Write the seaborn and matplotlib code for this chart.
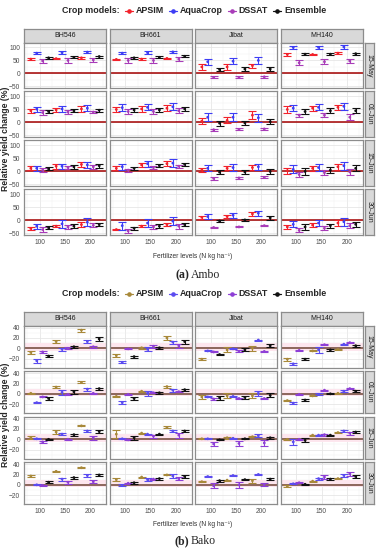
#!/usr/bin/env python3
"""
Relative yield change (%) of maize varieties under three N levels and four
sowing dates, simulated by APSIM, AquaCrop, DSSAT and their ensemble.
(a) Ambo, (b) Bako.
"""

import numpy as np
import pandas as pd
import matplotlib
matplotlib.use("Agg")
import matplotlib.pyplot as plt
from matplotlib.lines import Line2D
from matplotlib.ticker import FixedLocator
import seaborn as sns

# === Categories ===
VARIETIES = ["BH546", "BH661", "Jibat", "MH140"]
SOWING_DATES = ["15-May", "01-Jun", "15-Jun", "30-Jun"]
N_LEVELS = [100, 150, 200]
MODELS = ["APSIM", "AquaCrop", "DSSAT", "Ensemble"]

# === Data: rows = sowing dates, each row = BH546(100,150,200) | BH661 | Jibat | MH140 ===
AMBO_APSIM_MEAN = [
    [55, 57, 60, 54, 55, 58, 25, 25, 30, 73, 73, 78],
    [45, 48, 52, 50, 52, 55, 5, 8, 28, 50, 55, 58],
    [12, 20, 27, 12, 25, 30, 5, 12, 15, 3, 12, 18],
    [-31, -22, -16, -35, -22, -16, 12, 15, 25, -25, -18, -10],
]
AMBO_APSIM_ERR = [
    [3, 3, 3, 3, 3, 3, 10, 10, 8, 4, 3, 4],
    [8, 8, 10, 10, 10, 12, 12, 12, 15, 12, 10, 10],
    [8, 9, 10, 8, 9, 9, 8, 8, 8, 12, 10, 12],
    [5, 5, 10, 3, 5, 7, 6, 6, 8, 7, 7, 12],
]
AMBO_AQUACROP_MEAN = [
    [78, 80, 82, 78, 80, 83, 45, 47, 50, 100, 100, 102],
    [51, 52, 55, 57, 58, 60, 20, 20, 18, 55, 58, 62],
    [12, 20, 25, 18, 30, 32, 12, 15, 18, 8, 15, 22],
    [-22, -13, -7, -20, -10, -3, 15, 20, 28, -15, -10, -5],
]
AMBO_AQUACROP_ERR = [
    [5, 5, 5, 5, 5, 5, 12, 12, 12, 5, 5, 7],
    [10, 10, 12, 12, 12, 14, 15, 15, 15, 12, 12, 14],
    [9, 10, 12, 12, 12, 14, 12, 12, 12, 15, 15, 15],
    [10, 15, 15, 15, 15, 15, 8, 10, 10, 12, 12, 15],
]
AMBO_DSSAT_MEAN = [
    [48, 50, 52, 50, 50, 55, -15, -15, -13, 41, 45, 48],
    [38, 40, 40, 42, 42, 45, -28, -27, -25, 28, 28, 20],
    [5, 15, 18, 5, 15, 20, -27, -25, -23, -12, -5, -2],
    [-35, -25, -19, -40, -25, -22, -27, -25, -20, -38, -30, -20],
]
AMBO_DSSAT_ERR = [
    [9, 9, 9, 9, 8, 8, 4, 4, 4, 9, 9, 8],
    [8, 8, 5, 10, 9, 10, 4, 4, 5, 6, 7, 12],
    [7, 7, 7, 6, 6, 6, 4, 4, 4, 10, 10, 10],
    [8, 8, 8, 8, 8, 9, 2, 2, 2, 8, 8, 10],
]
AMBO_ENSEMBLE_MEAN = [
    [60, 62, 65, 60, 62, 66, 15, 17, 17, 74, 74, 76],
    [42, 45, 47, 48, 48, 52, -3, -2, 3, 42, 45, 45],
    [10, 18, 22, 12, 22, 27, -3, -2, 0, 0, 5, 12],
    [-28, -22, -16, -30, -22, -16, -2, 2, 10, -25, -20, -15],
]
AMBO_ENSEMBLE_ERR = [
    [4, 4, 4, 4, 4, 4, 7, 6, 7, 4, 4, 4],
    [5, 5, 6, 7, 6, 7, 10, 9, 10, 10, 10, 10],
    [6, 7, 7, 6, 6, 6, 8, 8, 8, 12, 12, 12],
    [6, 7, 7, 6, 7, 6, 4, 4, 8, 10, 8, 10],
]

BAKO_APSIM_MEAN = [
    [-8, 13, 35, -14, 1, 20, -21, -3, 0, -21, -5, -2],
    [1, 13, 22, -5, 5, 14, -6, -4, -4, -13, -4, 1],
    [3, 14, 26, 10, 12, 23, 1, 3, 5, 0, 8, 13],
    [17, 26, 33, 10, 15, 19, 6, 9, 8, -3, 7, 12],
]
BAKO_APSIM_ERR = [
    [3, 3, 3, 3, 2, 4, 2, 5, 5, 3, 1, 1],
    [1, 2, 2, 1, 1, 2, 4, 5, 5, 1, 1, 1],
    [3, 3, 1, 7, 1, 2, 1, 2, 1, 1, 1, 1],
    [1, 1, 1, 3, 1, 1, 1, 1, 4, 2, 1, 1],
]
BAKO_AQUACROP_MEAN = [
    [-24, -2, 13, -27, -2, 12, -5, -1, 16, -30, -3, 8],
    [-17, 3, 9, -17, 1, 7, -6, -5, 1, -18, -1, 5],
    [1, 10, 16, 1, 10, 16, 1, 2, 7, -5, 8, 16],
    [0, 11, 18, -1, 10, 17, 16, 18, 20, 2, 12, 18],
]
BAKO_AQUACROP_ERR = [
    [4, 3, 3, 2, 4, 3, 1, 1, 1, 2, 6, 1],
    [1, 5, 3, 3, 5, 3, 1, 1, 5, 2, 2, 2],
    [1, 2, 1, 1, 1, 1, 1, 1, 3, 6, 1, 1],
    [1, 3, 3, 2, 3, 3, 1, 1, 1, 1, 2, 2],
]
BAKO_DSSAT_MEAN = [
    [-7, 0, 3, -1, 4, 5, -7, -6, -6, -4, 7, 11],
    [-6, -1, 1, -1, 2, 4, -10, -9, -9, -1, 7, 10],
    [-5, 0, 3, -1, 6, 8, -9, -8, -7, 0, 9, 12],
    [-1, 5, 6, 3, 11, 12, -2, 0, 0, 4, 15, 21],
]
BAKO_DSSAT_ERR = [
    [2, 2, 2, 1, 3, 4, 1, 2, 1, 1, 1, 1],
    [1, 1, 1, 1, 1, 1, 1, 1, 1, 1, 1, 1],
    [2, 1, 4, 1, 3, 5, 3, 4, 5, 1, 2, 3],
    [1, 3, 3, 1, 1, 3, 5, 6, 3, 1, 3, 4],
]
BAKO_ENSEMBLE_MEAN = [
    [-15, 3, 18, -16, 1, 13, -12, -3, 5, -21, -3, 5],
    [-9, 4, 10, -9, 2, 8, -8, -7, -3, -12, 0, 5],
    [0, 9, 15, 3, 10, 16, -1, 1, 3, -2, 8, 14],
    [5, 14, 19, 4, 12, 16, 8, 10, 11, 1, 11, 16],
]
BAKO_ENSEMBLE_ERR = [
    [2, 2, 3, 2, 2, 4, 1, 3, 3, 2, 2, 2],
    [2, 4, 2, 2, 2, 2, 3, 3, 4, 2, 1, 2],
    [1, 2, 2, 4, 1, 2, 1, 1, 2, 4, 1, 2],
    [2, 2, 2, 2, 2, 2, 2, 1, 2, 1, 2, 2],
]

AMBO_COLORS = {"APSIM": "#F2222B", "AquaCrop": "#3D3DF5", "DSSAT": "#A83CB8", "Ensemble": "#111111"}
BAKO_COLORS = {"APSIM": "#A8893A", "AquaCrop": "#5B4CF0", "DSSAT": "#8E3FD6", "Ensemble": "#111111"}

W, H = 383, 550
SANS = ["Liberation Sans", "DejaVu Sans"]
SERIF = ["Liberation Serif", "DejaVu Serif"]


def build_frame(means, errs):
    rows = []
    for m, mean_arr, err_arr in zip(MODELS, means, errs):
        for di, d in enumerate(SOWING_DATES):
            for vi, v in enumerate(VARIETIES):
                for li, lvl in enumerate(N_LEVELS):
                    k = vi * 3 + li
                    rows.append((d, v, lvl, m, mean_arr[di][k], err_arr[di][k]))
    df = pd.DataFrame(rows, columns=["date", "variety", "level", "model", "mean", "err"])
    dodge = {m: (i - 1.5) * 11.7 for i, m in enumerate(MODELS)}
    df["x"] = df["level"] + df["model"].map(dodge)
    return df


def px_axes(fig, x, y, w, h):
    return fig.add_axes([x / W, 1 - (y + h) / H, w / W, h / H])


def style_panel(ax, ylim, yticks, yminor):
    ax.set_xlim(69, 231)
    ax.set_ylim(*ylim)
    ax.xaxis.set_major_locator(FixedLocator(N_LEVELS))
    ax.xaxis.set_minor_locator(FixedLocator([75, 125, 175, 225]))
    ax.yaxis.set_major_locator(FixedLocator(yticks))
    ax.yaxis.set_minor_locator(FixedLocator(yminor))
    ax.grid(which="major", color="#E6E6E6", lw=0.6)
    ax.grid(which="minor", color="#F1F1F1", lw=0.35)
    ax.set_axisbelow(True)
    for sp in ax.spines.values():
        sp.set_color("#8C8C8C")
        sp.set_linewidth(0.9)
    ax.tick_params(which="major", length=1.8, width=0.5, color="#555555", pad=1,
                   labelsize=4.8, labelcolor="#4D4D4D")
    ax.tick_params(which="minor", length=0)
    ax.set_xlabel("")
    ax.set_ylabel("")


def strip(fig, x, y, w, h, text, rotation=0):
    sax = px_axes(fig, x, y, w, h)
    sax.set_facecolor("#D9D9D9")
    sax.set_xticks([])
    sax.set_yticks([])
    for sp in sax.spines.values():
        sp.set_color("#8C8C8C")
        sp.set_linewidth(0.9)
    sax.text(0.5, 0.5, text, ha="center", va="center", rotation=rotation,
             fontsize=5.0, color="#1A1A1A", transform=sax.transAxes)


def draw_legend(fig, colors, y, center=194):
    renderer = fig.canvas.get_renderer()
    yf = 1 - y / H
    items = []
    title = fig.text(0, yf, "Crop models:", ha="left", va="center",
                     fontsize=6.4, fontweight="bold")
    items.append(("text", title, title.get_window_extent(renderer).width))
    for m in MODELS:
        items.append(("key", m, 8))
        t = fig.text(0, yf, m, ha="left", va="center", fontsize=6.4, fontweight="bold")
        items.append(("text", t, t.get_window_extent(renderer).width))
    gaps = {"key": 5.5, "text": 2.5}
    total = sum(w for _, _, w in items) + sum(gaps[k] for k, _, _ in items[1:])
    x = center - total / 2
    for i, (kind, obj, w) in enumerate(items):
        if i > 0:
            x += gaps[kind]
        if kind == "text":
            obj.set_x(x / W)
        else:
            c = colors[obj]
            fig.add_artist(Line2D([x / W, (x + w) / W], [yf, yf], color=c, lw=0.9,
                                  transform=fig.transFigure))
            fig.add_artist(Line2D([(x + w / 2) / W], [yf], color=c, marker="o",
                                  markersize=2.3, lw=0, transform=fig.transFigure))
        x += w


def draw_site(fig, df, colors, top, strip_h, row_step, row_h, ylim, yticks, yminor,
              zero_color, band, legend_y, xlabel_y, caption_y, caption):
    col_x = [24, 109.5, 195, 280.5]
    pw = 82
    row_top = top + strip_h

    draw_legend(fig, colors, legend_y)

    for ci, v in enumerate(VARIETIES):
        strip(fig, col_x[ci], top, pw, strip_h, v)

    for ri, d in enumerate(SOWING_DATES):
        ry = row_top + ri * row_step
        strip(fig, 364.5, ry, 9.5, row_h, d, rotation=-90)
        for ci, v in enumerate(VARIETIES):
            ax = px_axes(fig, col_x[ci], ry, pw, row_h)
            sub = df[(df["date"] == d) & (df["variety"] == v)]
            if band is not None:
                ax.axhspan(band[0], band[1], color="#FDE6EE", lw=0, zorder=1)
            ax.axhline(0, color=zero_color, lw=1.1, zorder=2)
            for m in MODELS:
                s = sub[sub["model"] == m]
                ax.errorbar(s["x"], s["mean"], yerr=s["err"], fmt="none",
                            ecolor=colors[m], elinewidth=0.8, capsize=2.6,
                            capthick=0.8, zorder=3)
            sns.scatterplot(data=sub, x="x", y="mean", hue="model", hue_order=MODELS,
                            palette=colors, s=4, linewidth=0, legend=False, ax=ax, zorder=4)
            style_panel(ax, ylim, yticks, yminor)
            if ci > 0:
                ax.tick_params(axis="y", labelleft=False, length=0)
            if ri < len(SOWING_DATES) - 1:
                ax.tick_params(axis="x", labelbottom=False, length=0)

    mid = row_top + (3 * row_step + row_h) / 2
    fig.text(5.5 / W, 1 - mid / H, "Relative yield change (%)", rotation=90,
             ha="center", va="center", fontsize=6.2, fontweight="bold")
    fig.text(193 / W, 1 - xlabel_y / H, "Fertilizer levels (N kg ha\u207b\u00b9)",
             ha="center", va="center", fontsize=4.8, color="#333333")
    fig.text(189 / W, 1 - caption_y / H, caption[0], ha="right", va="center",
             fontsize=8.5, fontweight="bold", family=SERIF)
    fig.text(191 / W, 1 - caption_y / H, caption[1], ha="left", va="center",
             fontsize=8.5, family=SERIF)


def main():
    sns.set_style("white")
    plt.rcParams["font.family"] = SANS

    ambo = build_frame([AMBO_APSIM_MEAN, AMBO_AQUACROP_MEAN, AMBO_DSSAT_MEAN, AMBO_ENSEMBLE_MEAN],
                       [AMBO_APSIM_ERR, AMBO_AQUACROP_ERR, AMBO_DSSAT_ERR, AMBO_ENSEMBLE_ERR])
    bako = build_frame([BAKO_APSIM_MEAN, BAKO_AQUACROP_MEAN, BAKO_DSSAT_MEAN, BAKO_ENSEMBLE_MEAN],
                       [BAKO_APSIM_ERR, BAKO_AQUACROP_ERR, BAKO_DSSAT_ERR, BAKO_ENSEMBLE_ERR])

    fig = plt.figure(figsize=(W / 100, H / 100), dpi=100)
    fig.patch.set_facecolor("white")

    draw_site(fig, ambo, AMBO_COLORS, top=28.5, strip_h=14, row_step=49, row_h=45.5,
              ylim=(-56, 119), yticks=[-50, 0, 50, 100], yminor=[-25, 25, 75],
              zero_color="#A30000", band=None, legend_y=10.5, xlabel_y=256,
              caption_y=275, caption=("(a)", "Ambo"))
    draw_site(fig, bako, BAKO_COLORS, top=312, strip_h=13.5, row_step=45.5, row_h=42,
              ylim=(-37, 44), yticks=[-20, 0, 20, 40], yminor=[-30, -10, 10, 30],
              zero_color="#6E4434", band=(-5, 10), legend_y=294, xlabel_y=524,
              caption_y=541, caption=("(b)", "Bako"))

    fig.savefig("out.png", dpi=100)
    plt.close(fig)


if __name__ == "__main__":
    main()
